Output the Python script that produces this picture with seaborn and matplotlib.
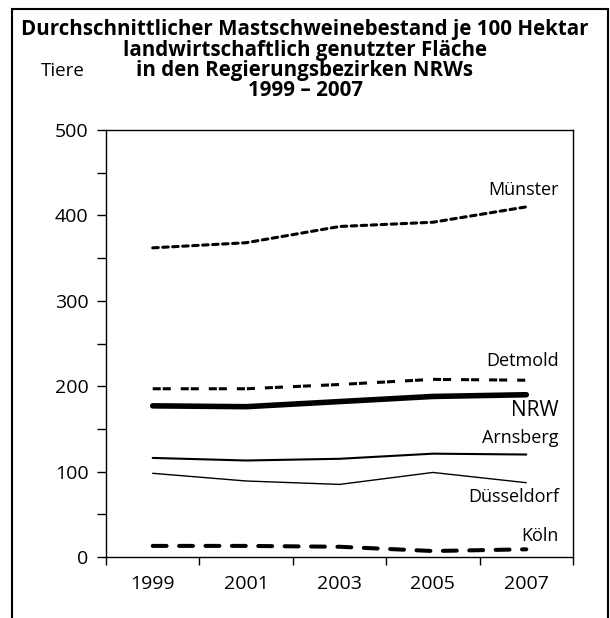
import matplotlib
matplotlib.use("Agg")
import matplotlib.pyplot as plt
from matplotlib.ticker import MultipleLocator, FixedLocator
from matplotlib.patches import Rectangle
import seaborn as sns

years = [1999, 2001, 2003, 2005, 2007]
muenster = [362, 368, 387, 392, 410]
detmold = [197, 197, 202, 208, 207]
nrw = [177, 176, 182, 188, 190]
arnsberg = [116, 113, 115, 121, 120]
duesseldorf = [98, 89, 85, 99, 87]
koeln = [13, 13, 12, 7, 9]

title_lines = ["Durchschnittlicher Mastschweinebestand je 100 Hektar",
               "landwirtschaftlich genutzter Fläche",
               "in den Regierungsbezirken NRWs",
               "1999 – 2007"]

sns.set_style("ticks")
plt.rcParams["font.family"] = ["Open Sans", "DejaVu Sans"]
plt.rcParams["lines.scale_dashes"] = False
plt.rcParams["text.color"] = "black"
plt.rcParams["xtick.color"] = "black"
plt.rcParams["ytick.color"] = "black"

fig = plt.figure(figsize=(6.1, 6.18), dpi=100)
ax = fig.add_axes([106 / 610, 1 - 557 / 618, 467 / 610, 427 / 618])

styles = [
    (muenster, dict(lw=2.2, linestyle=(0, (4.0, 3.2)), dash_capstyle="round")),
    (detmold, dict(lw=2.2, linestyle=(0, (5.8, 1.4, 5.8, 7.2)), dash_capstyle="butt")),
    (nrw, dict(lw=4.0, linestyle="-", solid_capstyle="round")),
    (arnsberg, dict(lw=1.5, linestyle="-")),
    (duesseldorf, dict(lw=1.0, linestyle="-")),
    (koeln, dict(lw=2.9, linestyle=(0, (10, 9)), dash_capstyle="round")),
]
for vals, kw in styles:
    sns.lineplot(x=years, y=vals, ax=ax, color="black", **kw)

ax.set_xlim(1998, 2008)
ax.set_ylim(0, 500)
ax.xaxis.set_major_locator(FixedLocator([1998, 2000, 2002, 2004, 2006, 2008]))
ax.xaxis.set_minor_locator(FixedLocator(years))
ax.set_xticklabels([])
ax.set_xticklabels([str(y) for y in years], minor=True, fontsize=14)
ax.tick_params(axis="x", which="major", length=6, width=1, direction="out")
ax.tick_params(axis="x", which="minor", length=0, pad=13)
ax.yaxis.set_major_locator(MultipleLocator(100))
ax.yaxis.set_minor_locator(MultipleLocator(50))
ax.tick_params(axis="y", which="both", length=6.5, width=1, direction="out", labelsize=14, pad=6)
for s in ax.spines.values():
    s.set_linewidth(1.0)
    s.set_visible(True)
    s.set_color("black")
ax.set_xlabel("")
ax.set_ylabel("")

labels = [
    ("Münster", 430, 13),
    ("Detmold", 229, 13),
    ("NRW", 171, 15),
    ("Arnsberg", 139, 13),
    ("Düsseldorf", 70, 13),
    ("Köln", 25, 13),
]
for name, yv, fs in labels:
    ax.text(2007.7, yv, name, ha="right", va="center", fontsize=fs)

for i, line in enumerate(title_lines):
    fig.text(0.5, 1 - (30 + 20.3 * i) / 618, line, ha="center", va="center",
             fontsize=14.8, fontweight="bold")
fig.text(63 / 610, 1 - 71 / 618, "Tiere", ha="center", va="center", fontsize=13.5)

fig.patches.append(Rectangle((12 / 610, -0.05), 596 / 610, 1 - 9 / 618 + 0.05,
                             transform=fig.transFigure, fill=False,
                             edgecolor="black", lw=1.5))

plt.savefig("out.png", dpi=100)
